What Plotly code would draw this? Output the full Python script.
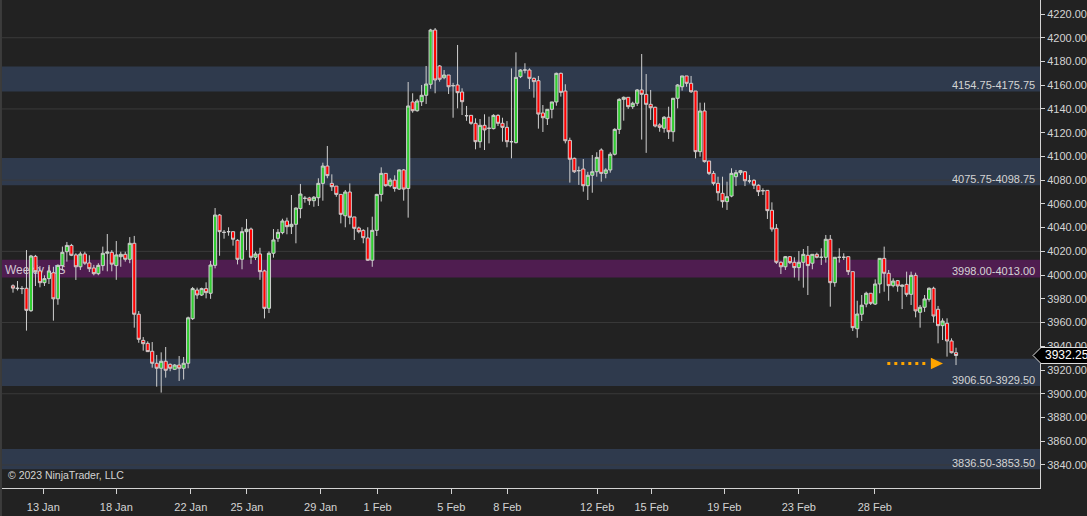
import plotly.graph_objects as go

# ---------------- data ----------------
opens = [
    3991.0, 3988.6, 3988.8, 3988.9, 3970.0, 4015.8, 4003.5, 3993.6, 3997.0, 4002.0,
    3980.0, 4008.0, 4019.7, 4025.0, 4017.0, 4007.0, 4017.8, 4010.2, 4006.0, 4001.2,
    4008.0, 4018.4, 4019.2, 4008.0, 4015.5, 4017.5, 4013.3, 4026.8, 3967.0, 3945.0,
    3942.5, 3935.8, 3925.7, 3921.5, 3927.4, 3924.8, 3920.6, 3924.2, 3921.5, 3925.7,
    3963.3, 3987.4, 3983.2, 3988.6, 3984.7, 4008.2, 4050.6, 4036.0, 4036.6, 4036.6,
    4029.3, 4013.3, 4036.6, 4038.8, 4015.0, 4017.8, 4003.5, 3972.0, 4018.4, 4031.0,
    4035.8, 4045.6, 4040.8, 4042.8, 4056.0, 4064.7, 4065.0, 4062.7, 4065.2, 4077.3,
    4091.9, 4077.3, 4075.0, 4068.0, 4050.0, 4070.0, 4049.0, 4039.7, 4037.7, 4031.3,
    4012.5, 4037.7, 4068.0, 4085.7, 4075.3, 4080.0, 4072.5, 4088.6, 4073.0, 4145.9,
    4138.5, 4146.1, 4151.5, 4160.8, 4206.5, 4176.2, 4166.3, 4168.6, 4159.6, 4160.2,
    4154.3, 4134.3, 4134.6, 4127.9, 4112.4, 4126.2, 4123.7, 4123.4, 4134.6, 4127.9,
    4124.5, 4112.4, 4111.6, 4167.2, 4172.8, 4172.8, 4165.8, 4163.8, 4136.6, 4131.8,
    4139.7, 4145.9, 4170.0, 4155.1, 4113.5, 4098.4, 4088.0, 4089.4, 4075.3, 4084.1,
    4087.1, 4105.4, 4085.7, 4088.6, 4101.8, 4122.8, 4148.1, 4149.8, 4141.9, 4144.8,
    4156.0, 4152.3, 4143.9, 4141.4, 4126.5, 4123.7, 4133.0, 4120.8, 4149.0, 4158.7,
    4167.8, 4161.6, 4155.1, 4104.0, 4138.3, 4096.1, 4085.7, 4077.3, 4068.9, 4061.9,
    4066.6, 4082.9, 4086.3, 4087.1, 4079.3, 4079.9, 4075.7, 4071.1, 4071.4, 4054.6,
    4039.4, 4010.8, 4007.0, 4015.5, 4010.8, 4006.3, 4010.8, 4016.7, 4010.0, 4017.5,
    4015.0, 4015.0, 4030.2, 3993.6, 4015.0, 4015.0, 4015.5, 4002.9, 3954.8, 3967.0,
    3975.6, 3984.7, 3975.6, 3992.5, 4014.1, 4001.5, 3991.1, 3995.3, 3990.5, 3992.2,
    3983.8, 3999.8, 3968.7, 3972.9, 3979.6, 3988.9, 3971.2, 3957.4, 3959.4, 3944.5, 3934.6,
]
highs = [
    3992.2, 3995.0, 3990.8, 4021.1, 4017.0, 4017.0, 4007.7, 3999.8, 4007.0, 4007.0,
    4009.0, 4024.0, 4027.9, 4026.3, 4018.4, 4019.7, 4019.7, 4016.7, 4008.6, 4010.0,
    4024.0, 4034.6, 4021.0, 4028.7, 4019.7, 4019.7, 4032.0, 4033.0, 3969.7, 3947.8,
    3944.2, 3943.6, 3932.7, 3934.9, 3939.4, 3925.5, 3925.0, 3931.8, 3931.0, 3965.0,
    3990.0, 3989.4, 3989.4, 3993.9, 4011.9, 4056.5, 4051.5, 4038.0, 4040.3, 4036.6,
    4030.2, 4040.3, 4047.3, 4040.0, 4019.7, 4023.0, 4004.5, 4020.0, 4038.8, 4038.8,
    4047.5, 4048.4, 4067.5, 4057.0, 4076.8, 4066.6, 4066.0, 4066.6, 4081.6, 4094.7,
    4108.8, 4084.9, 4075.0, 4068.0, 4071.7, 4077.3, 4049.0, 4040.8, 4038.6, 4040.3,
    4049.2, 4068.5, 4090.8, 4085.7, 4081.6, 4084.1, 4089.1, 4089.4, 4162.7, 4153.2,
    4148.4, 4160.2, 4176.2, 4207.5, 4208.2, 4177.0, 4172.8, 4168.6, 4162.0, 4193.9,
    4157.4, 4142.5, 4134.6, 4132.1, 4131.5, 4135.5, 4133.5, 4135.5, 4135.5, 4132.6,
    4129.8, 4174.2, 4187.7, 4173.5, 4178.5, 4174.2, 4166.5, 4167.8, 4143.3, 4139.7,
    4145.9, 4170.6, 4170.6, 4160.8, 4115.8, 4099.0, 4091.5, 4097.8, 4087.0, 4101.2,
    4103.5, 4106.8, 4090.0, 4103.5, 4123.7, 4149.0, 4150.5, 4149.8, 4146.1, 4156.8,
    4186.3, 4169.4, 4156.0, 4141.9, 4127.9, 4134.0, 4141.9, 4149.0, 4161.0, 4167.8,
    4167.8, 4167.8, 4155.1, 4145.3, 4145.3, 4096.1, 4087.7, 4082.9, 4082.9, 4078.7,
    4090.0, 4088.6, 4088.6, 4087.7, 4084.3, 4080.7, 4076.5, 4073.1, 4071.4, 4061.3,
    4043.0, 4011.5, 4016.1, 4016.1, 4015.0, 4020.3, 4022.0, 4024.5, 4017.5, 4018.9,
    4022.6, 4033.8, 4033.8, 4015.0, 4022.6, 4018.4, 4015.5, 4002.9, 3978.4, 3983.2,
    3986.0, 3984.7, 3996.4, 4014.1, 4024.0, 4004.3, 3997.3, 3995.9, 3992.2, 4002.9,
    4002.9, 4002.0, 3974.8, 3983.2, 3989.7, 3990.2, 3974.0, 3963.6, 3963.6, 3946.7, 3938.8,
]
lows = [
    3985.2, 3987.0, 3984.0, 3953.2, 3969.0, 3990.8, 3989.7, 3990.8, 3992.5, 3961.6,
    3975.0, 4003.7, 4011.3, 4016.0, 3995.9, 4004.3, 4008.6, 4002.6, 3999.8, 3999.9,
    4003.7, 4003.2, 4003.2, 3996.0, 4007.0, 4011.3, 4010.0, 3955.7, 3943.0, 3936.3,
    3935.2, 3922.0, 3906.0, 3901.0, 3913.6, 3919.0, 3920.0, 3910.8, 3912.0, 3921.5,
    3962.2, 3980.0, 3982.4, 3980.4, 3980.0, 4005.7, 4016.3, 4030.7, 4033.2, 4024.8,
    4009.0, 4004.9, 4021.0, 4009.4, 4012.7, 3996.0, 3963.5, 3968.0, 4014.7, 4028.0,
    4034.4, 4034.4, 4034.6, 4026.8, 4047.9, 4061.0, 4059.0, 4057.6, 4058.2, 4062.7,
    4081.6, 4070.9, 4066.0, 4043.6, 4040.3, 4042.8, 4029.6, 4035.2, 4026.8, 4012.0,
    4007.0, 4033.0, 4062.0, 4074.5, 4074.0, 4070.3, 4071.7, 4062.7, 4048.4, 4136.8,
    4137.7, 4142.5, 4144.2, 4157.0, 4153.2, 4163.0, 4165.0, 4152.6, 4132.6, 4140.5,
    4134.9, 4130.0, 4126.7, 4106.0, 4107.3, 4105.4, 4111.0, 4122.8, 4125.6, 4112.4,
    4107.7, 4098.4, 4111.0, 4166.0, 4170.0, 4156.8, 4149.5, 4123.4, 4120.6, 4126.5,
    4132.1, 4142.7, 4150.4, 4111.0, 4077.9, 4086.0, 4076.0, 4070.3, 4063.3, 4069.4,
    4082.9, 4078.7, 4081.6, 4086.3, 4100.8, 4118.9, 4130.1, 4140.0, 4140.0, 4142.5,
    4114.2, 4103.0, 4130.7, 4124.5, 4120.8, 4120.0, 4114.7, 4112.4, 4140.5, 4155.4,
    4158.7, 4153.5, 4098.4, 4099.8, 4094.8, 4084.3, 4075.5, 4062.7, 4056.8, 4054.9,
    4065.6, 4075.0, 4084.3, 4075.0, 4077.3, 4072.5, 4066.6, 4067.5, 4047.3, 4036.6,
    4009.4, 4000.9, 4004.3, 4009.4, 3998.0, 3995.3, 3989.4, 3983.2, 4004.9, 4014.1,
    4008.5, 4010.5, 3973.4, 3990.2, 4010.5, 4012.7, 4000.1, 3952.9, 3947.2, 3961.3,
    3972.9, 3974.8, 3974.8, 3984.7, 3986.0, 3978.4, 3989.7, 3986.0, 3971.4, 3981.8,
    3974.8, 3964.4, 3955.7, 3969.0, 3977.6, 3960.0, 3942.5, 3945.3, 3931.3, 3934.0, 3924.2,
]
closes = [
    3989.0, 3988.9, 3988.6, 3970.3, 4016.1, 4002.9, 3993.6, 3997.0, 4003.5, 3980.0,
    4008.2, 4019.2, 4025.0, 4016.7, 4007.0, 4017.8, 4010.0, 4005.4, 4001.2, 4008.2,
    4018.4, 4019.5, 4009.2, 4017.0, 4017.5, 4013.3, 4026.8, 3967.0, 3945.9, 3942.2,
    3935.5, 3925.7, 3921.5, 3927.4, 3919.8, 3921.5, 3924.2, 3921.5, 3925.7, 3964.0,
    3988.6, 3983.2, 3988.6, 3985.2, 4008.5, 4050.6, 4036.6, 4036.0, 4036.6, 4030.2,
    4013.3, 4036.6, 4038.6, 4015.0, 4017.8, 4002.9, 3972.0, 4018.4, 4029.6, 4036.0,
    4045.6, 4040.8, 4042.8, 4056.5, 4068.3, 4064.7, 4062.7, 4065.6, 4077.3, 4091.9,
    4083.8, 4074.5, 4068.0, 4051.2, 4070.0, 4048.7, 4039.4, 4036.6, 4031.5, 4012.5,
    4037.7, 4068.0, 4085.7, 4075.3, 4080.0, 4073.0, 4088.6, 4072.5, 4142.5, 4138.5,
    4146.7, 4151.5, 4161.0, 4206.5, 4164.4, 4165.0, 4168.6, 4158.7, 4159.6, 4153.7,
    4146.1, 4134.3, 4127.9, 4112.4, 4126.2, 4122.3, 4123.7, 4134.6, 4127.9, 4124.5,
    4112.4, 4112.4, 4166.6, 4172.8, 4172.8, 4165.8, 4163.0, 4135.7, 4132.6, 4139.7,
    4145.9, 4170.0, 4154.0, 4113.2, 4097.6, 4087.1, 4088.0, 4075.3, 4084.1, 4087.1,
    4099.2, 4085.7, 4088.6, 4101.8, 4122.8, 4148.1, 4149.8, 4141.9, 4144.8, 4156.0,
    4152.3, 4143.9, 4141.0, 4125.6, 4124.5, 4133.0, 4120.8, 4149.0, 4160.2, 4167.8,
    4161.6, 4154.5, 4104.0, 4138.3, 4095.6, 4085.7, 4077.3, 4069.4, 4061.9, 4066.1,
    4085.7, 4086.3, 4088.0, 4079.5, 4079.3, 4075.7, 4070.3, 4071.1, 4054.3, 4038.8,
    4010.8, 4007.0, 4015.5, 4010.5, 4006.3, 4010.8, 4017.5, 4008.0, 4017.5, 4015.0,
    4015.0, 4030.2, 3993.6, 4015.0, 4015.0, 4015.0, 4002.9, 3955.7, 3967.2, 3974.6,
    3984.7, 3976.2, 3992.5, 4014.1, 4001.5, 3991.1, 3995.0, 3990.8, 3991.5, 3983.8,
    3999.8, 3969.8, 3972.9, 3979.9, 3988.9, 3965.5, 3957.4, 3961.3, 3944.5, 3934.6, 3932.25,
]
assert len(opens) == len(highs) == len(lows) == len(closes), (len(opens), len(highs), len(lows), len(closes))

tick_pos = [6.75, 23.0, 39.6, 52.1, 68.5, 81.2, 97.6, 110.1, 130.1, 142.2, 158.4, 175.0, 191.9]
tick_labels = ["13 Jan", "18 Jan", "22 Jan", "25 Jan", "29 Jan", "1 Feb", "5 Feb",
               "8 Feb", "12 Feb", "15 Feb", "19 Feb", "23 Feb", "28 Feb"]

price_ticks = list(range(3840, 4221, 20))
grid_levels = [3840, 3900, 3960, 4020, 4080, 4140, 4200]

zone_lo = [4154.75, 4075.75, 3998.00, 3906.50, 3836.50]
zone_hi = [4175.75, 4098.75, 4013.00, 3929.50, 3853.50]
zone_kind = ["sr", "sr", "lis", "sr", "sr"]

# ---------------- styling ----------------
BG = "#222222"
TXT = "#d4d4d4"
ZONE_COL = {"sr": "#2f3a4d", "lis": "#4f1d50"}
FONT = "Liberation Sans, Arial, sans-serif"

N = len(closes)
xs = list(range(N))
x_range = [-2.45, 228.7]
y_range = [3820.6, 4231.8]

fig = go.Figure(go.Candlestick(
    x=xs, open=opens, high=highs, low=lows, close=closes,
    increasing=dict(line=dict(color="#cfcfcf", width=1), fillcolor="#32cd32"),
    decreasing=dict(line=dict(color="#cfcfcf", width=1), fillcolor="#ff0000"),
    whiskerwidth=0, hoverinfo="skip", showlegend=False,
))

shapes = []
annotations = []
for lo, hi, kind in zip(zone_lo, zone_hi, zone_kind):
    shp = dict(type="rect", xref="paper", yref="y", x0=0, x1=1, y0=lo, y1=hi,
               fillcolor=ZONE_COL[kind], line=dict(width=0), layer="below")
    if kind == "lis":
        shp["label"] = dict(text="Weekly LIS", textposition="middle left",
                            font=dict(family=FONT, size=12, color="#d2c6d2"), padding=0)
    shapes.append(shp)
    annotations.append(dict(xref="paper", yref="y", x=1, y=lo, xanchor="right", yanchor="bottom",
                            xshift=-3, yshift=-2, showarrow=False, text=f"{lo:.2f}-{hi:.2f}",
                            font=dict(family=FONT, size=11, color=TXT)))

for g in grid_levels:
    shapes.append(dict(type="line", xref="paper", yref="y", x0=0, x1=1, y0=g, y1=g,
                       line=dict(color="#3a3a3a", width=1), layer="below"))

# left border
shapes.append(dict(type="line", xref="paper", yref="paper", x0=-0.001, x1=-0.001, y0=-0.06, y1=1,
                   line=dict(color="#3c3c3c", width=2), layer="above"))

# last price flag
last = closes[-1]
yp = (last - y_range[0]) / (y_range[1] - y_range[0])
hh = 8 / 488
pw = 1038.0
def px2paper(px):
    return (px - 2) / pw
shapes.append(dict(type="path", xref="paper", yref="paper",
                   path=(f"M {px2paper(1033)},{yp} L {px2paper(1041)},{yp + hh} "
                         f"L {px2paper(1088)},{yp + hh} L {px2paper(1088)},{yp - hh} "
                         f"L {px2paper(1041)},{yp - hh} Z"),
                   fillcolor="#000000", line=dict(color="#e0e0e0", width=1), layer="above"))
annotations.append(dict(xref="paper", yref="paper", x=px2paper(1041), y=yp, xanchor="left",
                        yanchor="middle", showarrow=False, text=f"{last:.2f}", xshift=2,
                        font=dict(family=FONT, size=12, color="#ffffff")))

# orange pointer arrow
arrow_y = last - 6.75
li = N - 1
shapes.append(dict(type="line", xref="x", yref="y", x0=li - 15.3, x1=li - 6.2, y0=arrow_y, y1=arrow_y,
                   line=dict(color="#ffa500", width=3, dash="3px,4px"), layer="above"))
shapes.append(dict(type="path", xref="x", yref="y",
                   path=(f"M {li - 5.6},{arrow_y + 4.8} L {li - 2.9},{arrow_y} "
                         f"L {li - 5.6},{arrow_y - 4.8} Z"),
                   fillcolor="#ffa500", line=dict(width=0), layer="above"))

annotations.append(dict(xref="paper", yref="paper", x=px2paper(6), y=(488 - 475) / 488,
                        xanchor="left", yanchor="middle", showarrow=False,
                        text="© 2023 NinjaTrader, LLC",
                        font=dict(family=FONT, size=10.5, color=TXT)))

fig.update_layout(
    width=1087, height=516,
    margin=dict(l=2, r=47, t=0, b=28, autoexpand=False),
    paper_bgcolor=BG, plot_bgcolor=BG,
    boxgap=0.3, boxgroupgap=0,
    font=dict(family=FONT, size=11, color=TXT),
    showlegend=False,
    shapes=shapes, annotations=annotations,
    xaxis=dict(range=x_range, rangeslider=dict(visible=False), tickmode="array",
               tickvals=tick_pos, ticktext=tick_labels, ticks="outside", ticklen=5,
               tickcolor=TXT, showline=True, linecolor=TXT, linewidth=1,
               showgrid=False, zeroline=False, fixedrange=True, automargin=False,
               ticklabelstandoff=4,
               tickfont=dict(family=FONT, size=11, color=TXT)),
    yaxis=dict(side="right", range=y_range, tickmode="array", tickvals=price_ticks,
               tickformat=".2f", ticks="outside", ticklen=4, tickcolor=TXT,
               showline=True, linecolor=TXT, linewidth=1, showgrid=False,
               zeroline=False, fixedrange=True, automargin=False,
               tickfont=dict(family=FONT, size=11, color=TXT)),
)

fig.write_html("out.html", config={"displayModeBar": False, "staticPlot": True},
               post_script="document.body.style.margin='0px';document.body.style.overflow='hidden';document.body.style.background='#222222';")
